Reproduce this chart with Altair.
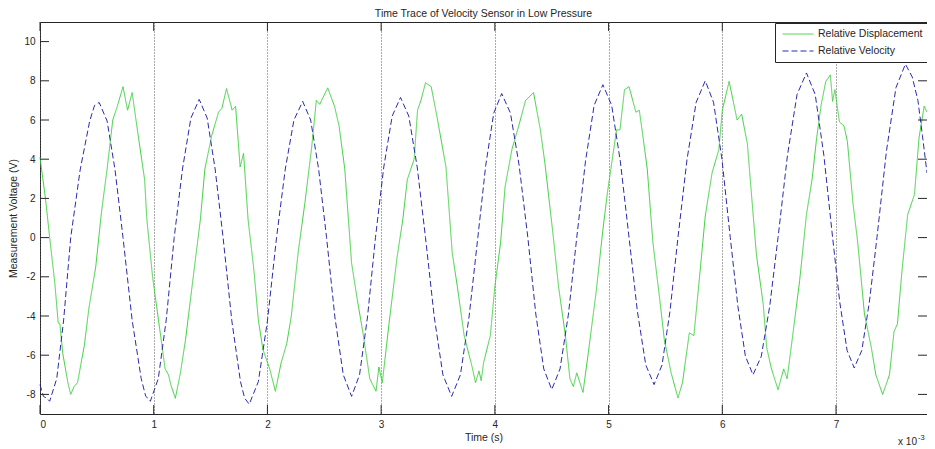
import altair as alt
import pandas as pd

# ---- data (time in ms, voltage in V) ----
disp_t = [0.00, 0.05, 0.085, 0.13, 0.16, 0.175, 0.20, 0.245, 0.27, 0.30, 0.33, 0.39, 0.43, 0.49,
          0.54, 0.59, 0.64, 0.68, 0.73, 0.77, 0.81, 0.86, 0.92, 0.94, 0.99, 1.03, 1.07, 1.10,
          1.13, 1.15, 1.19, 1.235, 1.28, 1.32, 1.37, 1.41, 1.45, 1.51, 1.57, 1.60, 1.64, 1.69,
          1.72, 1.76, 1.79, 1.83, 1.88, 1.92, 1.96, 2.02, 2.07, 2.12, 2.17, 2.21, 2.27, 2.33,
          2.39, 2.43, 2.46, 2.53, 2.59, 2.63, 2.68, 2.74, 2.79, 2.84, 2.90, 2.955, 2.98, 3.01,
          3.07, 3.14, 3.19, 3.23, 3.29, 3.32, 3.35, 3.39, 3.44, 3.49, 3.57, 3.625, 3.67, 3.73,
          3.80, 3.83, 3.86, 3.88, 3.90, 3.96, 4.00, 4.05, 4.09, 4.15, 4.21, 4.27, 4.34, 4.40,
          4.44, 4.51, 4.56, 4.62, 4.66, 4.69, 4.72, 4.775, 4.83, 4.89, 4.95, 4.99, 5.04, 5.07,
          5.10, 5.14, 5.18, 5.24, 5.27, 5.30, 5.34, 5.39, 5.45, 5.49, 5.55, 5.61, 5.65, 5.71,
          5.75, 5.80, 5.85, 5.91, 5.97, 6.00, 6.06, 6.13, 6.17, 6.22, 6.30, 6.36, 6.39, 6.43,
          6.49, 6.54, 6.57, 6.62, 6.68, 6.74, 6.79, 6.83, 6.87, 6.91, 6.95, 6.97, 6.99, 7.03,
          7.07, 7.10, 7.15, 7.19, 7.25, 7.31, 7.35, 7.41, 7.47, 7.51, 7.54, 7.58, 7.63, 7.69,
          7.73, 7.775, 7.80]
disp_v = [4.1, 1.9, 0.0, -2.3, -4.35, -4.4, -5.9, -7.4, -8.0, -7.6, -7.4, -5.5, -3.6, -1.5,
          1.27, 3.5, 6.0, 6.7, 7.7, 6.5, 7.4, 5.35, 2.96, 0.9, -2.0, -3.7, -5.4, -6.7,
          -7.0, -7.5, -8.2, -6.9, -5.2, -3.3, -0.95, 0.9, 3.5, 5.2, 6.4, 6.6, 7.6, 6.5,
          6.7, 3.6, 4.3, 0.9, -1.6, -4.2, -5.7, -6.7, -7.84, -6.4, -5.4, -4.0, -0.77, 1.8,
          4.66, 7.0, 6.8, 7.64, 6.7, 5.7, 3.5, -1.3, -3.16, -4.85, -7.2, -7.84, -6.6, -7.4,
          -4.35, -1.0, 0.9, 2.96, 4.0, 6.5, 7.0, 7.9, 7.7, 6.2, 3.6, -0.77, -2.5, -5.0,
          -6.6, -7.4, -6.8, -7.3, -6.4, -5.0, -2.5, -0.27, 2.6, 4.5, 5.7, 7.0, 7.4, 5.5,
          3.8, 0.24, -2.5, -5.0, -7.2, -7.6, -6.9, -7.9, -5.5, -2.8, 0.4, 2.3, 4.3, 5.5,
          5.5, 7.55, 7.7, 6.4, 6.5, 5.25, 3.5, -0.27, -3.16, -5.2, -6.9, -8.18, -7.4, -4.86,
          -5.0, -2.0, 1.1, 3.3, 4.5, 6.5, 7.97, 6.0, 6.3, 4.8, -0.87, -3.4, -5.6, -6.65,
          -7.76, -6.7, -7.2, -4.95, -2.2, 1.17, 3.0, 5.1, 6.8, 7.97, 8.3, 6.95, 7.55, 5.9,
          5.7, 4.9, 1.7, -0.2, -3.9, -5.6, -7.0, -8.0, -7.0, -4.8, -4.4, -1.7, 1.17, 2.2,
          5.1, 6.7, 6.4]

vel_t = [0.00, 0.03, 0.06, 0.085, 0.147, 0.208, 0.27, 0.353, 0.437, 0.48, 0.50, 0.52, 0.59,
         0.66, 0.73, 0.81, 0.89, 0.93, 0.95, 0.97, 1.04, 1.11, 1.18, 1.253, 1.327, 1.40, 1.47,
         1.54, 1.61, 1.687, 1.763, 1.80, 1.84, 1.92, 2.00, 2.08, 2.157, 2.233, 2.31, 2.38,
         2.45, 2.52, 2.593, 2.667, 2.74, 2.81, 2.88, 2.95, 3.023, 3.097, 3.17, 3.243, 3.317,
         3.39, 3.467, 3.543, 3.62, 3.697, 3.773, 3.85, 3.92, 3.99, 4.06, 4.137, 4.213, 4.29,
         4.36, 4.43, 4.50, 4.573, 4.647, 4.72, 4.797, 4.873, 4.95, 5.027, 5.103, 5.18, 5.253,
         5.327, 5.40, 5.47, 5.54, 5.61, 5.69, 5.77, 5.85, 5.923, 5.997, 6.07, 6.137, 6.203,
         6.27, 6.343, 6.417, 6.49, 6.573, 6.657, 6.74, 6.817, 6.893, 6.97, 7.033, 7.097, 7.16,
         7.227, 7.293, 7.36, 7.443, 7.527, 7.61, 7.67, 7.72, 7.76, 7.80]
vel_v = [-7.5, -8.1, -8.2, -8.35, -7.2, -4.2, 0.0, 3.45, 5.95, 6.75, 6.8, 6.9, 5.95,
         3.45, 0.0, -4.2, -7.2, -8.1, -8.2, -8.35, -7.2, -4.2, 0.0, 3.5, 6.1, 7.05, 6.1,
         3.5, 0.0, -4.25, -7.35, -8.2, -8.5, -7.35, -4.25, 0.0, 3.5, 6.0, 6.95, 6.0,
         3.5, 0.0, -4.05, -7.0, -8.1, -7.0, -4.05, 0.0, 3.6, 6.2, 7.15, 6.2, 3.6,
         0.0, -4.05, -7.0, -8.1, -7.0, -4.05, 0.0, 3.7, 6.35, 7.35, 6.35, 3.7, 0.0,
         -3.9, -6.7, -7.75, -6.7, -3.9, 0.0, 3.9, 6.75, 7.8, 6.75, 3.9, 0.0, -3.75,
         -6.5, -7.5, -6.5, -3.75, 0.0, 4.0, 6.9, 8.0, 6.9, 4.0, 0.0, -3.5, -6.05,
         -7.0, -6.05, -3.5, 0.0, 4.2, 7.3, 8.4, 7.3, 4.2, 0.0, -3.3, -5.75, -6.65,
         -5.75, -3.3, 0.0, 4.4, 7.65, 8.85, 8.2, 7.0, 5.2, 3.3]

series_names = ["Relative Displacement", "Relative Velocity"]
series_colors = ["#3fd13f", "#2a2ab0"]
series_dashes = [[1, 0], [6, 3]]
x_ticks = [0, 1, 2, 3, 4, 5, 6, 7]
y_ticks = [-8, -6, -4, -2, 0, 2, 4, 6, 8, 10]
X_DOMAIN = [0, 7.8]
Y_DOMAIN = [-9, 11]
TITLE = "Time Trace of Velocity Sensor in Low Pressure"
X_TITLE = "Time (s)"
Y_TITLE = "Measurement Voltage (V)"
EXP_BASE = ["x 10"]
EXP_POWER = ["-3"]

W, H = 887, 392
FONT = "Liberation Sans"
INK = "#262626"
TL = 9

df = pd.concat([
    pd.DataFrame({"t": disp_t, "v": disp_v, "series": series_names[0]}),
    pd.DataFrame({"t": vel_t, "v": vel_v, "series": series_names[1]}),
], ignore_index=True)

xs = alt.Scale(domain=X_DOMAIN, nice=False, zero=False)
ys = alt.Scale(domain=Y_DOMAIN, nice=False, zero=False)
xaxis = alt.Axis(values=x_ticks, title=X_TITLE, ticks=False, domain=False, grid=True,
                 gridDash=[1, 2], gridColor="#555555", gridOpacity=1, labelPadding=5,
                 titlePadding=3, labelExpr="toString(datum.value)")
yaxis = alt.Axis(values=y_ticks, title=Y_TITLE, ticks=False, domain=False, grid=False,
                 labelPadding=5, titlePadding=5, labelExpr="toString(datum.value)")

legend = alt.Legend(title=None, orient="none", legendX=W - 152, legendY=1, fillColor="white",
                    strokeColor=INK, padding=5, symbolType="M-2.82,0H2.82", symbolSize=121,
                    symbolOffset=12, symbolStrokeWidth=1, labelFont=FONT, labelFontSize=10.5,
                    labelColor=INK, rowPadding=5, labelOffset=14, labelLimit=200)

lines = alt.Chart(df).mark_line(strokeWidth=1).encode(
    x=alt.X("t:Q", scale=xs, axis=xaxis),
    y=alt.Y("v:Q", scale=ys, axis=yaxis),
    color=alt.Color("series:N", scale=alt.Scale(domain=series_names, range=series_colors), legend=legend),
    strokeDash=alt.StrokeDash("series:N", scale=alt.Scale(domain=series_names, range=series_dashes), legend=legend),
)

xt = pd.DataFrame({"tick": x_ticks})
yt = pd.DataFrame({"tick": y_ticks})
rule = dict(color=INK, strokeWidth=1)
bottom_ticks = alt.Chart(xt).mark_rule(**rule).encode(
    x=alt.X("tick:Q", scale=xs, axis=xaxis), y=alt.value(H), y2=alt.value(H - TL))
top_ticks = alt.Chart(xt).mark_rule(**rule).encode(
    x=alt.X("tick:Q", scale=xs, axis=xaxis), y=alt.value(0), y2=alt.value(TL))
left_ticks = alt.Chart(yt).mark_rule(**rule).encode(
    y=alt.Y("tick:Q", scale=ys, axis=yaxis), x=alt.value(0), x2=alt.value(TL))
right_ticks = alt.Chart(yt).mark_rule(**rule).encode(
    y=alt.Y("tick:Q", scale=ys, axis=yaxis), x=alt.value(W), x2=alt.value(W - TL))

exp_df = pd.DataFrame({"t": [X_DOMAIN[1]], "v": [Y_DOMAIN[0]], "base": EXP_BASE, "power": EXP_POWER})
base_text = alt.Chart(exp_df).mark_text(align="right", baseline="alphabetic", dx=-10, dy=31,
                                        font=FONT, fontSize=10, color=INK).encode(
    x=alt.X("t:Q", scale=xs, axis=xaxis), y=alt.Y("v:Q", scale=ys, axis=yaxis), text="base:N")
power_text = alt.Chart(exp_df).mark_text(align="left", baseline="alphabetic", dx=-9, dy=26,
                                         font=FONT, fontSize=7.5, color=INK).encode(
    x=alt.X("t:Q", scale=xs, axis=xaxis), y=alt.Y("v:Q", scale=ys, axis=yaxis), text="power:N")

chart = alt.layer(
    lines, bottom_ticks, top_ticks, left_ticks, right_ticks, base_text, power_text
).properties(
    width=W, height=H,
    title=alt.Title(TITLE, font=FONT, fontSize=10.5, fontWeight="normal", color=INK,
                    offset=2, anchor="middle"),
    padding={"left": 32, "top": 14, "right": 0, "bottom": 35},
    autosize=alt.AutoSizeParams(type="none"),
    background="white",
).configure_view(
    stroke=INK, strokeWidth=1
).configure_axis(
    labelFont=FONT, labelFontSize=10, labelColor=INK,
    titleFont=FONT, titleFontSize=10.5, titleFontWeight="normal", titleColor=INK,
)

chart.save("out.html", embed_options={"renderer": "svg", "actions": False})
